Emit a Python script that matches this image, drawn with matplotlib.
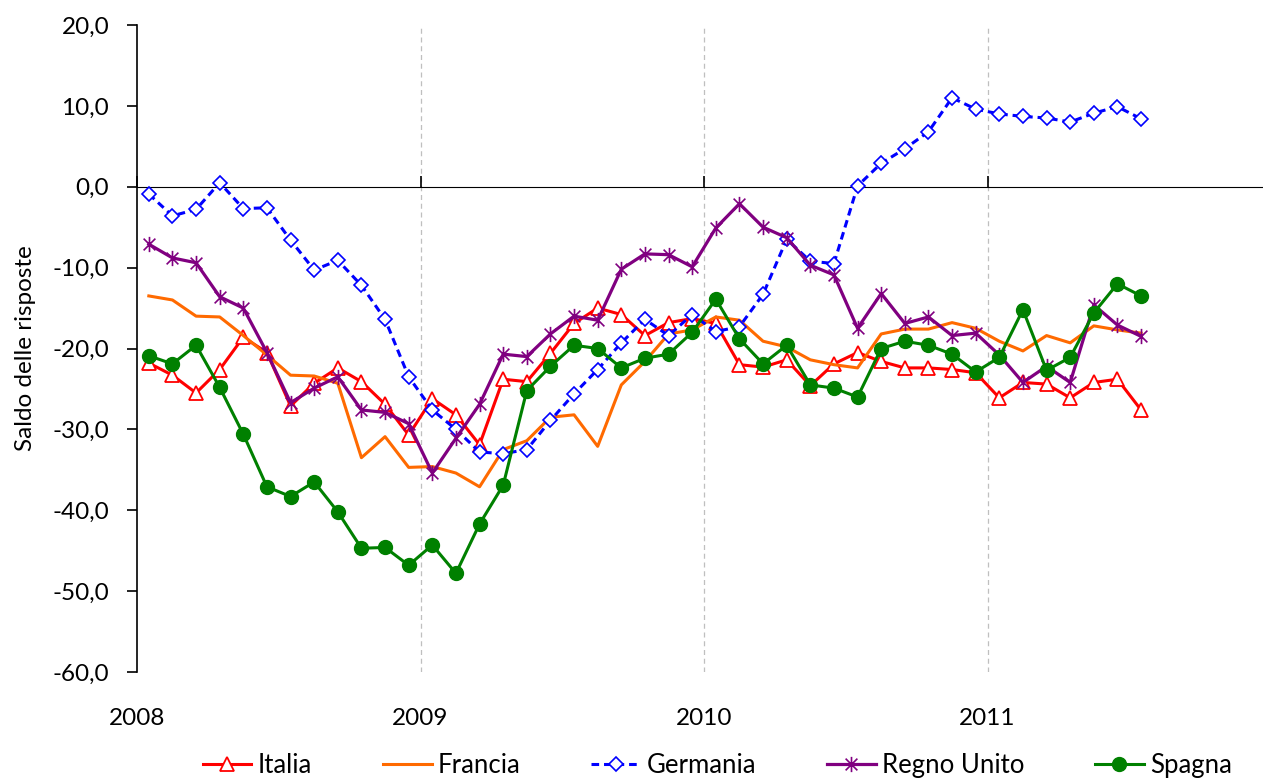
import matplotlib
matplotlib.use("Agg")
import matplotlib.pyplot as plt
from matplotlib.path import Path
import numpy as np

# monthly values, Jan 2008 - Jul 2011
italia = [-21.8, -23.3, -25.5, -22.6, -18.6, -20.5, -27.1, -24.3, -22.4, -24.1,
          -26.9, -30.7, -26.2, -28.2, -31.9, -23.8, -24.1, -20.6, -16.9, -15.0,
          -15.8, -18.4, -16.8, -16.3, -16.9, -22.0, -22.3, -21.4, -24.6, -21.9,
          -20.5, -21.6, -22.4, -22.4, -22.6, -23.0, -26.1, -24.2, -24.4, -26.1,
          -24.2, -23.8, -27.6]
francia = [-13.5, -14.0, -16.0, -16.1, -18.4, -20.8, -23.3, -23.4, -24.3, -33.5,
           -30.9, -34.7, -34.6, -35.4, -37.1, -32.5, -31.4, -28.5, -28.2, -32.1,
           -24.5, -21.6, -18.2, -17.7, -16.1, -16.5, -19.1, -19.8, -21.4, -22.0,
           -22.4, -18.2, -17.6, -17.6, -16.8, -17.5, -19.1, -20.3, -18.4, -19.3,
           -17.2, -17.7, -18.1]
germania = [-0.9, -3.6, -2.8, 0.5, -2.7, -2.6, -6.6, -10.3, -9.1, -12.2,
            -16.4, -23.5, -27.6, -30.0, -32.8, -33.0, -32.5, -28.9, -25.6, -22.6,
            -19.3, -16.4, -18.4, -15.8, -17.9, -17.3, -13.3, -6.5, -9.2, -9.5,
            0.1, 2.9, 4.7, 6.8, 11.0, 9.6, 9.0, 8.7, 8.5, 8.0,
            9.1, 9.9, 8.4]
regno_unito = [-7.1, -8.8, -9.4, -13.6, -15.0, -20.5, -26.7, -24.9, -23.5, -27.6,
               -27.9, -29.3, -35.4, -31.1, -26.9, -20.7, -21.0, -18.2, -16.0, -16.5,
               -10.2, -8.3, -8.4, -9.9, -5.1, -2.1, -5.0, -6.3, -9.7, -10.9,
               -17.5, -13.2, -16.9, -16.1, -18.4, -18.1, -20.8, -24.2, -22.2, -24.2,
               -14.6, -17.1, -18.5]
spagna = [-20.9, -21.9, -19.6, -24.8, -30.6, -37.1, -38.3, -36.5, -40.2, -44.7,
          -44.6, -46.8, -44.3, -47.8, -41.7, -36.9, -25.2, -22.2, -19.6, -20.0,
          -22.4, -21.2, -20.7, -18.0, -13.9, -18.8, -21.9, -19.6, -24.5, -24.9,
          -26.0, -20.0, -19.1, -19.6, -20.7, -22.9, -21.1, -15.2, -22.7, -21.1,
          -15.6, -12.0, -13.5]
anni = [2008, 2009, 2010, 2011]

x = 2008 + (np.arange(len(italia)) + 0.5) / 12

star = Path([(-1, -1), (1, 1), (-1, 1), (1, -1), (0, -1.3), (0, 1.3)],
            [Path.MOVETO, Path.LINETO, Path.MOVETO, Path.LINETO, Path.MOVETO, Path.LINETO])

plt.rcParams['font.family'] = ['Lato', 'DejaVu Sans']

fig = plt.figure(figsize=(12.63, 7.79), dpi=100)
ax = fig.add_axes([137 / 1263, 107 / 779, 1134 / 1263, 647 / 779])

ax.plot(x, italia, color='#FF0000', lw=2.2, marker='^', ms=10, mfc='white',
        mec='#FF0000', mew=1.3, label='Italia')
ax.plot(x, francia, color='#FF6A00', lw=2.2, label='Francia')
ax.plot(x, germania, color='#0000FF', lw=2.2, ls=(0, (2.5, 1.6)), marker='D', ms=7,
        mfc='white', mec='#0000FF', mew=1.2, label='Germania')
ax.plot(x, regno_unito, color='#800080', lw=2.3, marker=star, ms=11, mec='#800080',
        mew=1.2, label='Regno Unito')
ax.plot(x, spagna, color='#008000', lw=2.2, marker='o', ms=10, label='Spagna')

ax.set_xlim(2008, 2012)
ax.set_ylim(-60, 20)
ax.set_yticks(np.arange(-60, 21, 10))
ax.set_yticklabels([f"{v:.1f}".replace('.', ',') for v in np.arange(-60, 21, 10)])
ax.set_xticks(anni)
ax.set_xticklabels([str(a) for a in anni])

for s in ['top', 'right', 'bottom']:
    ax.spines[s].set_visible(False)
ax.spines['left'].set_linewidth(1.2)
ax.tick_params(axis='y', direction='out', length=7, width=1.2, pad=13, labelsize=17.5)
ax.tick_params(axis='x', length=0, pad=26, labelsize=17.5)

for a in anni[1:]:
    ax.axvline(a, color='#BFBFBF', lw=0.9, ls=(0, (4, 3)), zorder=0)

# zero line with year ticks
sec = ax.secondary_xaxis(0.75)
sec.set_xticks(anni + [2012])
sec.set_xticklabels([])
sec.tick_params(direction='out', length=8, width=1.2)
sec.spines['bottom'].set_linewidth(1.2)

ax.set_ylabel('Saldo delle risposte', fontsize=17.5)
ax.yaxis.set_label_coords(-0.089, 0.5)

fig.legend(loc='center', bbox_to_anchor=(0.568, 0.017), ncol=5, frameon=False,
           fontsize=18.5, handlelength=1.9, handletextpad=0.25, columnspacing=2.75)

fig.savefig('out.png', dpi=100)
